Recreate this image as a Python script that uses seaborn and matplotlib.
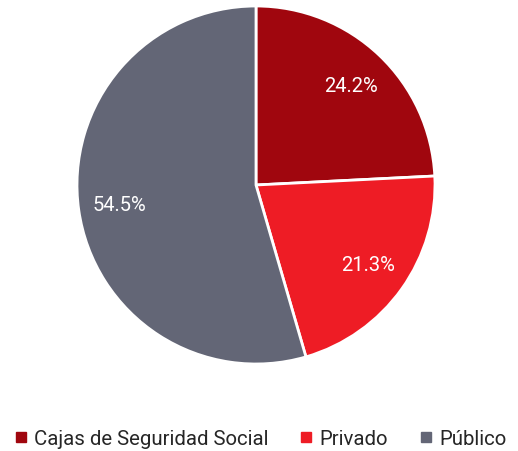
import matplotlib
matplotlib.use("Agg")
import matplotlib.pyplot as plt
from matplotlib.lines import Line2D
import seaborn as sns

categories = ["Cajas de Seguridad Social", "Privado", "Público"]
shares = [24.2, 21.3, 54.5]
colors = ["#A0060E", "#EE1C25", "#636676"]

sns.set_theme(style="white")
plt.rcParams['font.family'] = ['Roboto', 'DejaVu Sans']

# pie centre (256, 186) px, radius 179 px
fig = plt.figure(figsize=(5.18, 4.52), dpi=100)
ax = fig.add_axes([(256 - 179) / 518, (452 - 186 - 179) / 452, 358 / 518, 358 / 452])

wedges, texts, autotexts = ax.pie(
    shares, colors=colors, startangle=90, counterclock=False,
    autopct="%.1f%%", pctdistance=0.77, radius=1,
    wedgeprops=dict(edgecolor="white", linewidth=2),
    textprops=dict(color="white", fontsize=14.5),
)
ax.set_xlim(-1, 1)
ax.set_ylim(-1, 1)
ax.set_aspect("equal")
ax.axis("off")

handles = [Line2D([0], [0], marker="s", linestyle="", markersize=6.5,
                  markerfacecolor=c, markeredgecolor=c) for c in colors]
fig.legend(handles, categories, loc="center", bbox_to_anchor=(261 / 518, 1 - 440 / 452),
           ncol=3, frameon=False, fontsize=14.7, handlelength=0.5,
           handletextpad=0.4, columnspacing=1.6)

fig.savefig("out.png", dpi=100)
